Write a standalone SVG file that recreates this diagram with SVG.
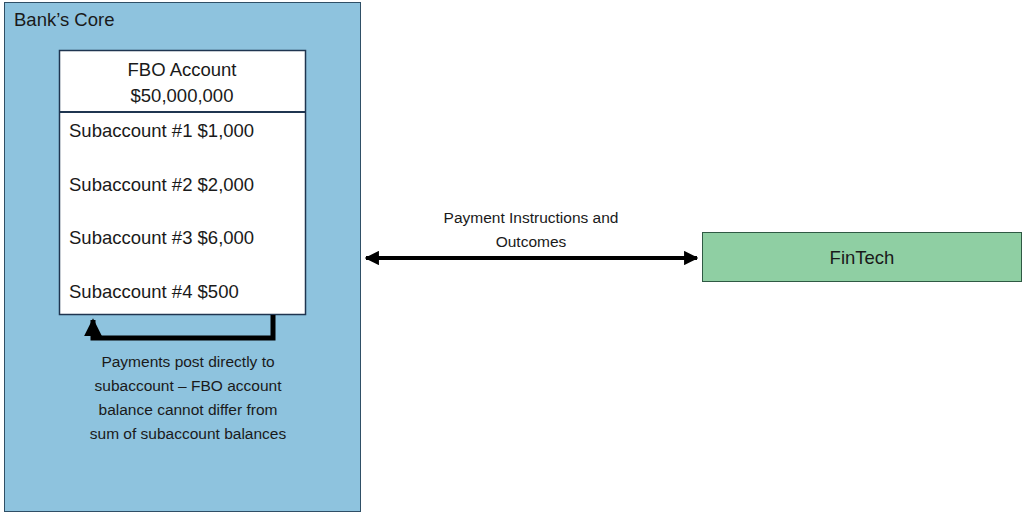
<svg xmlns="http://www.w3.org/2000/svg" width="1024" height="513" viewBox="0 0 1024 513">
<defs>
<style>
text{font-family:"Liberation Sans",Arial,sans-serif;fill:#1a1a1a}
.big{font-size:18.5px}
.mid{font-size:15.5px}
</style>
<marker id="ah" viewBox="0 0 10 10" refX="9" refY="5" markerWidth="3.6" markerHeight="3.6" orient="auto-start-reverse"><path d="M0,0 L10,5 L0,10 z" fill="#000"/></marker>
</defs>
<rect width="1024" height="513" fill="#fff"/>
<g id="bank-core">
<rect x="4.5" y="2.5" width="356" height="509" fill="#8ec3de" stroke="#2f4f66" stroke-width="1"/>
<text x="14" y="26" class="big">Bank’s Core</text>
</g>
<g id="fbo">
<rect x="59.5" y="50.5" width="246" height="264" fill="#fff" stroke="#1f3550" stroke-width="1.5"/>
<line x1="59.5" y1="112" x2="305.5" y2="112" stroke="#1f3550" stroke-width="2"/>
<text x="182" y="76" class="big" text-anchor="middle">FBO Account</text>
<text x="182" y="102" class="big" text-anchor="middle">$50,000,000</text>
<text x="69" y="137" class="big">Subaccount #1 $1,000</text>
<text x="69" y="191" class="big">Subaccount #2 $2,000</text>
<text x="69" y="244" class="big">Subaccount #3 $6,000</text>
<text x="69" y="298" class="big">Subaccount #4 $500</text>
</g>
<g id="fintech">
<rect x="702.5" y="232.5" width="319" height="49" fill="#8fcfa3" stroke="#2f5a44" stroke-width="1"/>
<text x="862" y="264" class="big" text-anchor="middle">FinTech</text>
</g>
<g id="connectors" fill="none" stroke="#000">
<path d="M273,315 V338 H93 V320" stroke-width="5" marker-end="url(#ah)"/>
<line x1="366" y1="258" x2="697" y2="258" stroke-width="4" marker-start="url(#ah)" marker-end="url(#ah)"/>
</g>
<g id="labels">
<text x="188" y="367" class="mid" text-anchor="middle">Payments post directly to</text>
<text x="188" y="391" class="mid" text-anchor="middle">subaccount – FBO account</text>
<text x="188" y="415" class="mid" text-anchor="middle">balance cannot differ from</text>
<text x="188" y="439" class="mid" text-anchor="middle">sum of subaccount balances</text>
<text x="531" y="223" class="mid" text-anchor="middle">Payment Instructions and</text>
<text x="531" y="247" class="mid" text-anchor="middle">Outcomes</text>
</g>
</svg>
